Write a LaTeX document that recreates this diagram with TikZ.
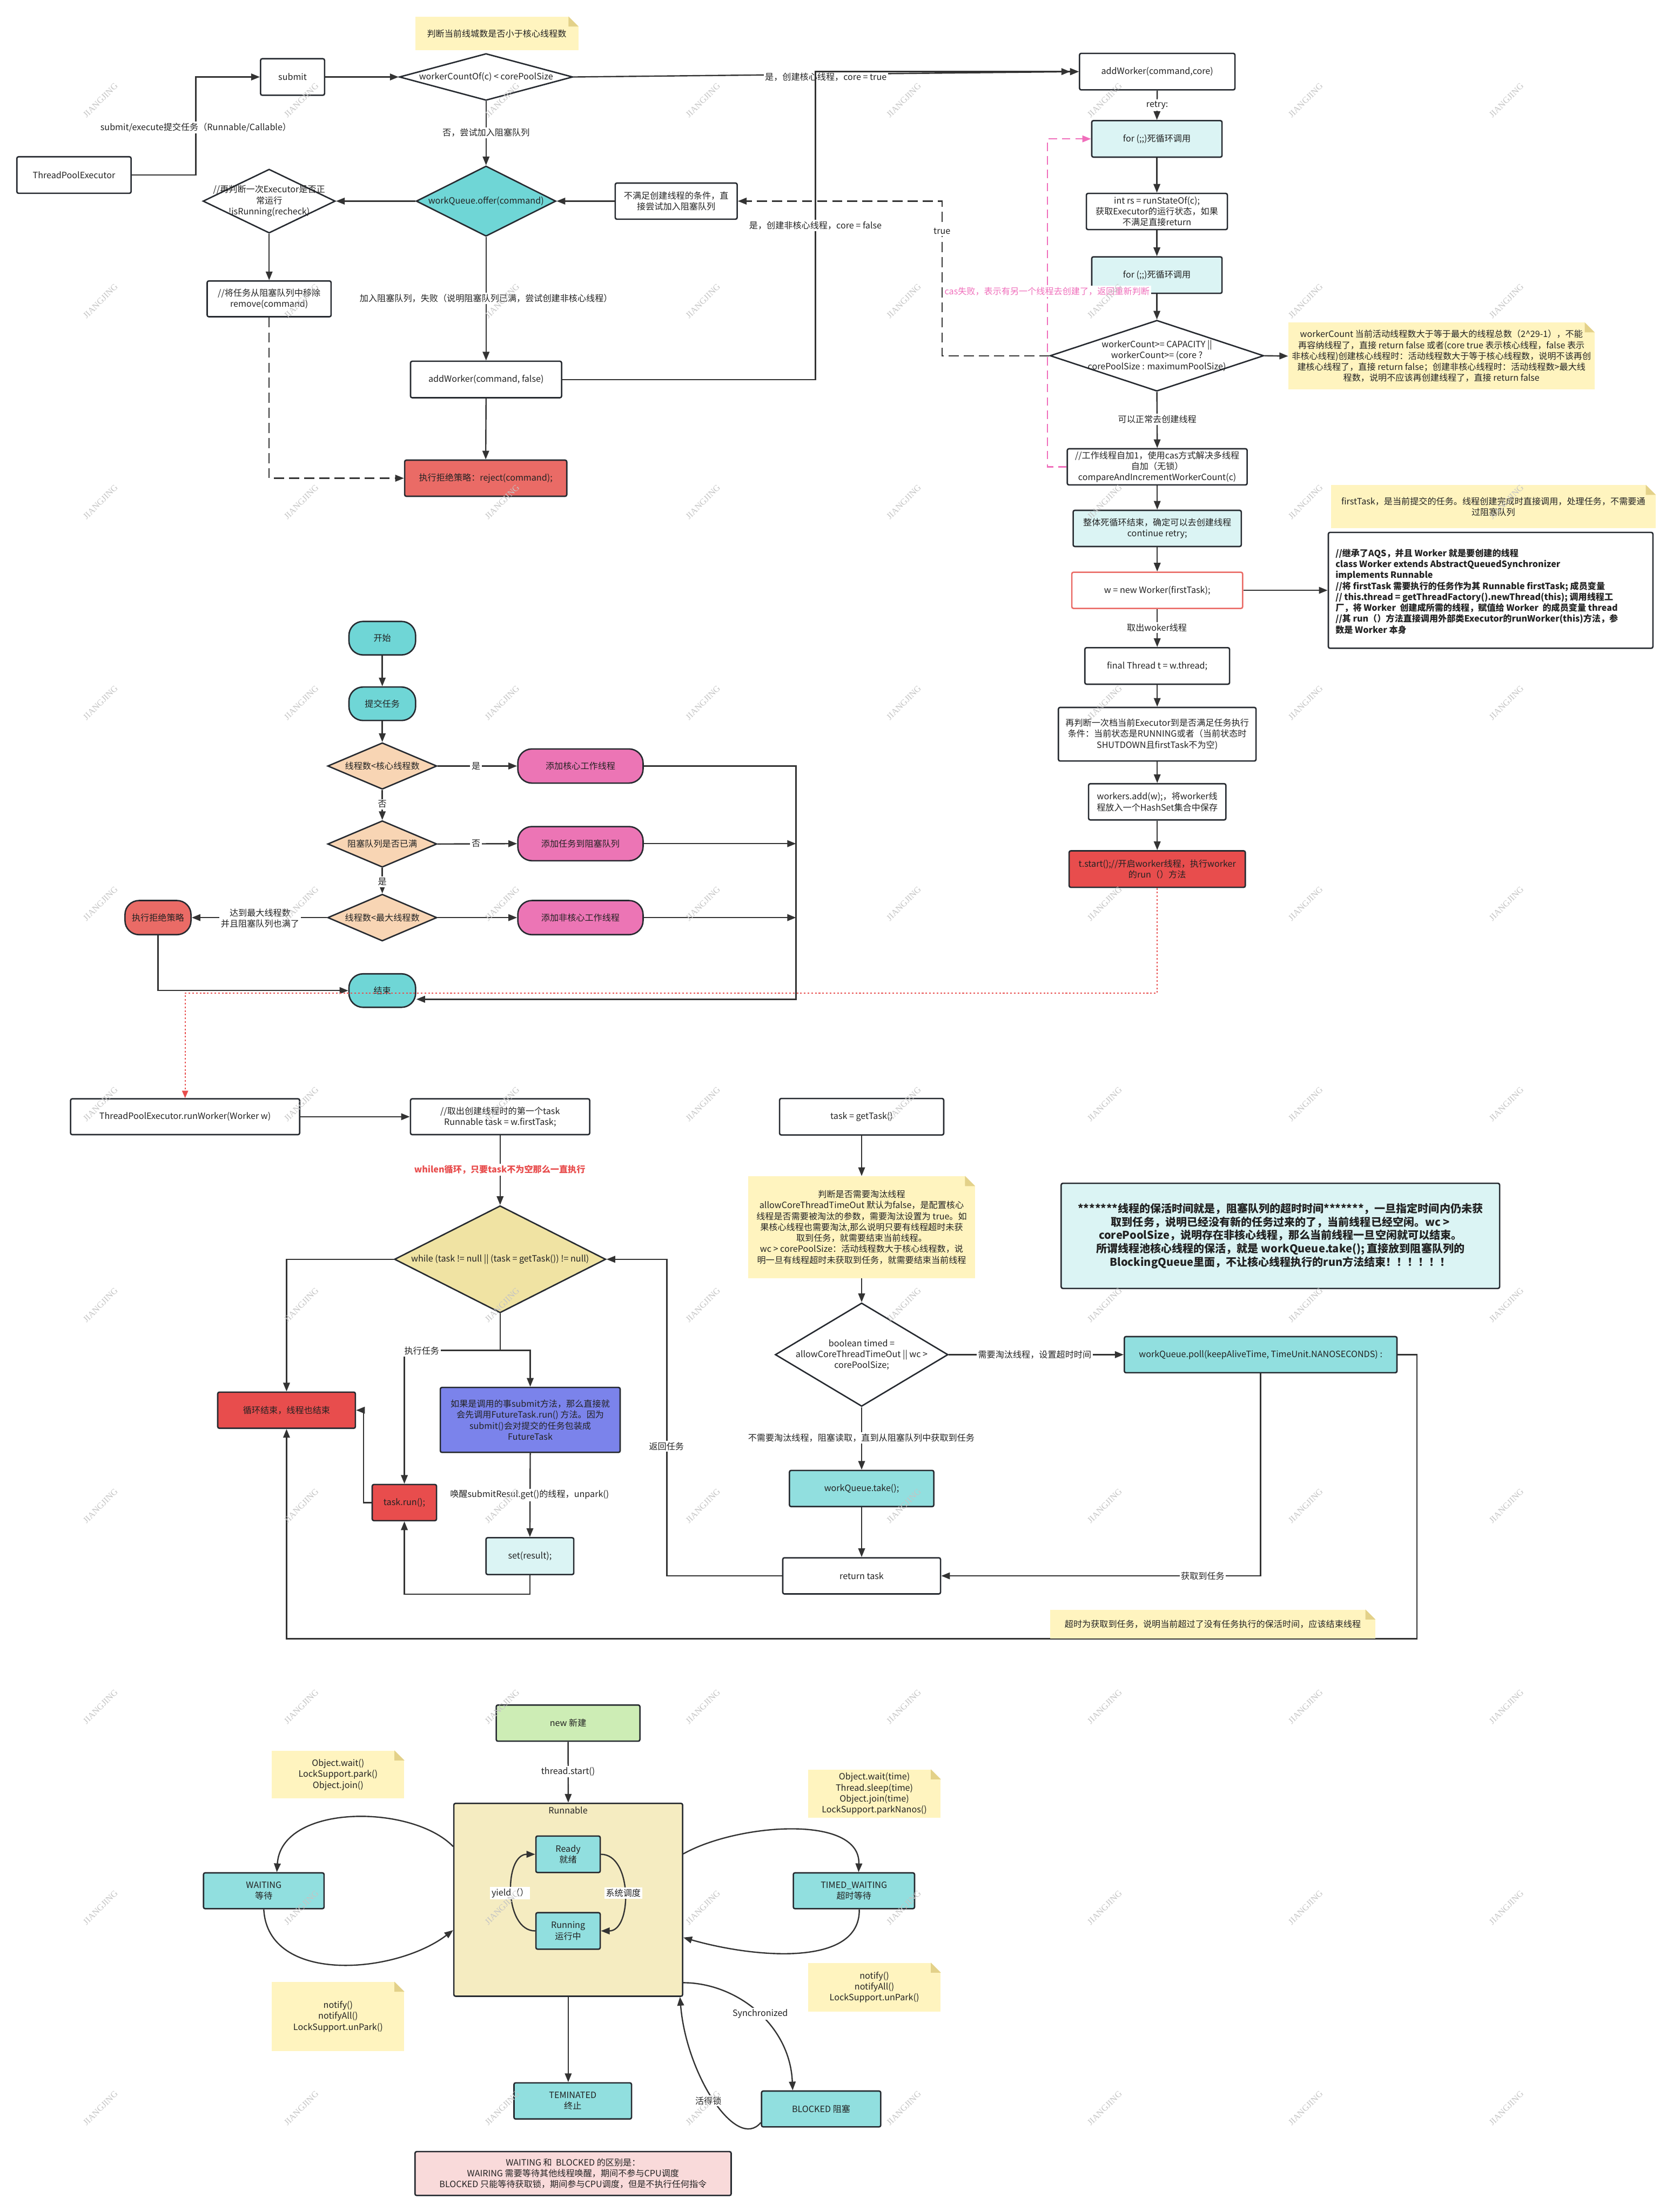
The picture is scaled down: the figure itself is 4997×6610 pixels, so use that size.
\documentclass[tikz,border=0pt]{standalone}
\usepackage{fontspec}
\setmainfont{Noto Sans CJK SC}
\newfontfamily\wmfont{Liberation Serif}
\usetikzlibrary{shapes.geometric,arrows.meta,calc}
\definecolor{cB}{HTML}{262A30}
\definecolor{cL}{HTML}{333333}
\definecolor{cT}{HTML}{222222}
\definecolor{cNote}{HTML}{FFF4BF}
\definecolor{cFold}{HTML}{E3D189}
\definecolor{cCy}{HTML}{6FD6D6}
\definecolor{cLC}{HTML}{DBF4F4}
\definecolor{cCy2}{HTML}{91DFDF}
\definecolor{cRed}{HTML}{EA6B66}
\definecolor{cRed2}{HTML}{E84D4D}
\definecolor{cPink}{HTML}{EC75B5}
\definecolor{cPeach}{HTML}{F8D5B4}
\definecolor{cKhaki}{HTML}{F0E3A3}
\definecolor{cBlue}{HTML}{7B83EB}
\definecolor{cGreen}{HTML}{CDEDB5}
\definecolor{cRun}{HTML}{F5ECC1}
\definecolor{cPk}{HTML}{F9DADA}
\definecolor{cPinkLine}{HTML}{F06EBB}
\definecolor{cWM}{HTML}{C4C4C4}
\newcommand\fs{\fontsize{7.4pt}{9.3pt}\selectfont}
\newcommand\fbig{\fontsize{9.2pt}{11.3pt}\selectfont\bfseries}
\newcommand\mynotefold[1]{%
  \fill[white] ($(#1.north east)+(-30,0)$) -- (#1.north east) -- ($(#1.north east)+(0,30)$) -- cycle;
  \fill[cFold] ($(#1.north east)+(-30,0)$) -- ($(#1.north east)+(-30,30)$) -- ($(#1.north east)+(0,30)$) -- cycle;}
\begin{document}
\begin{tikzpicture}[x=0.01cm,y=-0.01cm,
  box/.style={draw=cB, line width=1.2pt, rounded corners=0.05cm, fill=white, align=center, font=\fs, text=cT, inner sep=1pt},
  stad/.style={box, rounded corners=0.42cm},
  dia/.style={diamond, draw=cB, line width=1.2pt, inner sep=0pt, fill=white},
  dtxt/.style={align=center, font=\fs, text=cT, inner sep=0pt},
  ln/.style={draw=cL, line width=1.1pt},
  arr/.style={draw=cL, line width=1.1pt, -{Triangle[length=0.26cm,width=0.2cm]}},
  arrd/.style={draw=cL, line width=1.1pt, -{Triangle[length=0.26cm,width=0.2cm]Triangle[length=0.26cm,width=0.2cm]}},
  dsh/.style={dash pattern=on 0.3cm off 0.15cm},
  lbl/.style={fill=white, inner sep=1.2pt, font=\fs, text=cT, align=center},
  note/.style={fill=cNote, align=center, font=\fs, text=cT, inner sep=2pt},
  wm/.style={font=\wmfont\fontsize{7.5pt}{8pt}\selectfont, text=cWM, rotate=45, inner sep=0pt}
]
\fill[white] (0,0) rectangle (4997,6610);
\useasboundingbox (0,0) rectangle (4997,6610);

%%%%%%%%%%%%%%%% top section
\node[note, minimum width=4.87cm, minimum height=1.00cm] (n0) at (1484,100) {判断当前线城数是否小于核心线程数};
\mynotefold{n0}
\node[box, minimum width=1.91cm, minimum height=1.09cm] (submit) at (874,230) {submit};
\node[dia, minimum width=5.18cm, minimum height=1.40cm] (d1) at (1452,230) {};
\node[dtxt] (d1t) at (1452,230) {workerCountOf(c) < corePoolSize};
\node[box, minimum width=3.41cm, minimum height=1.09cm] (tpe) at (221,523) {ThreadPoolExecutor};
\coordinate (c0) at (585,523);
\draw[arr] (tpe.east) -- (c0) |- (submit.west);
\node[lbl] (l0) at (585,381) {submit/execute提交任务（Runnable/Callable）};
\draw[arr] (submit.east) -- (d1.west);

\node[box, minimum width=4.64cm, minimum height=1.09cm] (aw) at (3457,214) {addWorker(command,core)};
\draw[arr] (d1.east) -- (aw.west);
\node[lbl] (l1) at (2467,230) {是，创建核心线程，core = true};

\node[dia, fill=cCy, minimum width=4.17cm, minimum height=2.10cm] (wq) at (1452,601) {};
\node[dtxt] (wqt) at (1452,601) {workQueue.offer(command)};
\draw[arr] (d1.south) -- (wq.north);
\node[lbl] (l2) at (1452,397) {否，尝试加入阻塞队列};
\node[box, minimum width=3.64cm, minimum height=1.08cm] (nc) at (2020,601) {不满足创建线程的条件，直\\接尝试加入阻塞队列};
\draw[arr] (nc.west) -- (wq.east);
\node[dia, minimum width=3.95cm, minimum height=1.91cm] (rc) at (804,601) {};
\node[dtxt] (rct) at (804,601) {//再判断一次Executor是否正\\常运行\\!isRunning(recheck)};
\draw[arr] (wq.west) -- (rc.east);
\node[box, minimum width=3.70cm, minimum height=1.07cm] (rm) at (804,893) {//将任务从阻塞队列中移除\\remove(command)};
\draw[arr] (rc.south) -- (rm.north);
\node[box, minimum width=4.51cm, minimum height=1.09cm] (awf) at (1452,1134) {addWorker(command, false)};
\draw[arr] (wq.south) -- (awf.north);
\node[lbl] (l3) at (1452,891) {加入阻塞队列，失败（说明阻塞队列已满，尝试创建非核心线程）};
\node[box, fill=cRed, minimum width=4.84cm, minimum height=1.08cm] (rej) at (1451,1429) {执行拒绝策略：reject(command);};
\draw[arr] (awf.south) -- (rej.north);
\draw[arr, dsh] (rm.south) |- (rej.west);
\coordinate (c1) at (2436,214);
\draw[arrd] (awf.east) -| (c1) -- (aw.west);
\node[lbl] (l4) at (2436,674) {是，创建非核心线程，core = false};

%%%%%%%%%%%%%%%% right column
\node[box, fill=cLC, minimum width=3.89cm, minimum height=1.09cm] (for1) at (3456,415) {for (;;)死循环调用};
\draw[arr] (aw.south) -- (for1.north);
\node[lbl] (l5) at (3457,314) {retry:};
\node[box, minimum width=4.21cm, minimum height=1.08cm] (rs) at (3456,632) {int rs = runStateOf(c);\\获取Executor的运行状态，如果\\不满足直接return};
\draw[arr] (for1.south) -- (rs.north);
\node[box, fill=cLC, minimum width=3.89cm, minimum height=1.09cm] (for2) at (3456,822) {for (;;)死循环调用};
\draw[arr] (rs.south) -- (for2.north);
\node[dia, minimum width=6.38cm, minimum height=2.12cm] (cap) at (3456,1063) {};
\node[dtxt] (capt) at (3456,1063) {workerCount>= CAPACITY ||\\workerCount>= (core ?\\corePoolSize : maximumPoolSize)};
\draw[arr] (for2.south) -- (cap.north);
\node[note, minimum width=9.14cm, minimum height=2.00cm] (capn) at (4306,1064) {workerCount 当前活动线程数大于等于最大的线程总数（2\textasciicircum 29-1），不能\\再容纳线程了，直接 return false 或者(core true 表示核心线程，false 表示\\非核心线程)创建核心线程时：活动线程数大于等于核心线程数，说明不该再创\\建核心线程了，直接 return false；创建非核心线程时：活动线程数>最大线\\程数，说明不应该再创建线程了，直接 return false};
\mynotefold{capn}
\draw[arr] (cap.east) -- (capn.west);
\coordinate (c2) at (2814,1063);
\draw[arr, dsh] (cap.west) -- (c2) |- (nc.east);
\node[lbl] (l6) at (2814,691) {true};
\node[box, minimum width=5.37cm, minimum height=1.08cm] (cas) at (3457,1395) {//工作线程自加1，使用cas方式解决多线程\\自加（无锁）\\compareAndIncrementWorkerCount(c)};
\draw[arr] (cap.south) -- (cas.north);
\node[lbl] (l7) at (3457,1253) {可以正常去创建线程};
\coordinate (c4) at (3129,1395);
\draw[draw=cPinkLine, line width=1.1pt, dash pattern=on 0.25cm off 0.15cm, -{Triangle[length=0.26cm,width=0.2cm]}] (cas.west) -- (c4) |- (for1.west);
\node[lbl, text=cPinkLine] (l8) at (3128,871) {cas失败，表示有另一个线程去创建了，返回重新判断};
\node[box, fill=cLC, minimum width=5.02cm, minimum height=1.08cm] (loop) at (3457,1579) {整体死循环结束，确定可以去创建线程\\continue retry;};
\draw[arr] (cas.south) -- (loop.north);
\node[box, draw=cRed, minimum width=5.10cm, minimum height=1.08cm] (nw) at (3457,1764) {w = new Worker(firstTask);};
\draw[arr] (loop.south) -- (nw.north);
\node[note, minimum width=9.69cm, minimum height=1.29cm] (ftn) at (4461,1514) {firstTask，是当前提交的任务。线程创建完成时直接调用，处理任务，不需要通\\过阻塞队列};
\mynotefold{ftn}
\node[box, minimum width=9.69cm, minimum height=3.46cm] (wk) at (4453,1764) {};
\node[anchor=west, align=left, font=\fs\bfseries, text=cT, inner sep=0pt] (wkt) at (3989,1767) {//继承了AQS，并且 Worker 就是要创建的线程\\class Worker extends AbstractQueuedSynchronizer\\implements Runnable\\//将 firstTask 需要执行的任务作为其 Runnable firstTask; 成员变量\\// this.thread = getThreadFactory().newThread(this); 调用线程工\\厂，将 Worker~ 创建成所需的线程，赋值给 Worker~ 的成员变量 thread\\//其 run（）方法直接调用外部类Executor的runWorker(this)方法，参\\数是 Worker 本身};
\draw[arr] (nw.east) -- (wk.west);
\node[box, minimum width=4.32cm, minimum height=1.09cm] (ft) at (3457,1990) {final Thread t = w.thread;};
\draw[arr] (nw.south) -- (ft.north);
\node[lbl] (l9) at (3456,1875) {取出woker线程};
\node[box, minimum width=5.90cm, minimum height=1.60cm] (rc2) at (3457,2194) {再判断一次档当前Executor到是否满足任务执行\\条件：当前状态是RUNNING或者（当前状态时\\SHUTDOWN且firstTask不为空)};
\draw[arr] (ft.south) -- (rc2.north);
\node[box, minimum width=4.10cm, minimum height=1.08cm] (wa) at (3457,2396) {workers.add(w);，将worker线\\程放入一个HashSet集合中保存};
\draw[arr] (rc2.south) -- (wa.north);
\node[box, fill=cRed2, minimum width=5.26cm, minimum height=1.09cm] (ts) at (3457,2597) {t.start();//开启worker线程，执行worker\\的run（）方法};
\draw[arr] (wa.south) -- (ts.north);

%%%%%%%%%%%%%%%% simple flowchart
\node[stad, fill=cCy, minimum width=1.99cm, minimum height=1.00cm] (st) at (1142,1907) {开始};
\node[stad, fill=cCy, minimum width=1.99cm, minimum height=1.00cm] (sub) at (1142,2103) {提交任务};
\draw[arr] (st.south) -- (sub.north);
\node[dia, fill=cPeach, minimum width=3.26cm, minimum height=1.39cm] (dA) at (1142,2289) {};
\node[dtxt] (dAt) at (1142,2289) {线程数<核心线程数};
\draw[arr] (sub.south) -- (dA.north);
\node[stad, fill=cPink, minimum width=3.74cm, minimum height=1.02cm] (pA) at (1734,2289) {添加核心工作线程};
\draw[arr] (dA.east) -- (pA.west);
\node[lbl] (lA) at (1422,2289) {是};
\node[dia, fill=cPeach, minimum width=3.26cm, minimum height=1.39cm] (dB) at (1142,2522) {};
\node[dtxt] (dBt) at (1142,2522) {阻塞队列是否已满};
\draw[arr] (dA.south) -- (dB.north);
\node[lbl] (lB) at (1142,2403) {否};
\node[stad, fill=cPink, minimum width=3.74cm, minimum height=1.02cm] (pB) at (1734,2521) {添加任务到阻塞队列};
\draw[arr] (dB.east) -- (pB.west);
\node[lbl] (lC) at (1422,2521) {否};
\node[dia, fill=cPeach, minimum width=3.26cm, minimum height=1.40cm] (dC) at (1142,2742) {};
\node[dtxt] (dCt) at (1142,2742) {线程数<最大线程数};
\draw[arr] (dB.south) -- (dC.north);
\node[lbl] (lD) at (1142,2635) {是};
\node[stad, fill=cPink, minimum width=3.74cm, minimum height=1.02cm] (pC) at (1734,2742) {添加非核心工作线程};
\draw[arr] (dC.east) -- (pC.west);
\node[stad, fill=cRed, minimum width=1.97cm, minimum height=1.02cm] (rj) at (472,2742) {执行拒绝策略};
\draw[arr] (dC.west) -- (rj.east);
\node[lbl] (lE) at (777,2744) {达到最大线程数\\并且阻塞队列也满了};
\node[stad, fill=cCy, minimum width=1.99cm, minimum height=1.00cm] (en) at (1142,2960) {结束};
\coordinate (vb) at (2378,2986);
\coordinate (vB) at (2378,2521);
\coordinate (vC) at (2378,2742);
\draw[arr] (pA.east) -| (vb) -- (en.east |- vb);
\draw[arr] (pB.east) -- (vB);
\draw[arr] (pC.east) -- (vC);
\draw[arr] (rj.south) |- (en.west);

%%%%%%%%%%%%%%%% runWorker section
\node[box, minimum width=6.84cm, minimum height=1.07cm] (rw) at (553,3337) {ThreadPoolExecutor.runWorker(Worker w)};
\coordinate (rd0) at (553,2968);
\draw[draw=cRed2, line width=1pt, dash pattern=on 0.05cm off 0.06cm, -{Triangle[length=0.22cm,width=0.18cm]}] (ts.south) |- (rd0) -- (rw.north);
\node[box, minimum width=5.35cm, minimum height=1.07cm] (ftk) at (1494,3337) {//取出创建线程时的第一个task\\Runnable task = w.firstTask;};
\draw[arr] (rw.east) -- (ftk.west);
\node[dia, fill=cKhaki, minimum width=6.31cm, minimum height=3.20cm] (wd) at (1494,3763) {};
\node[dtxt] (wdt) at (1494,3763) {while (task != null || (task = getTask()) != null)};
\draw[arr] (ftk.south) -- (wd.north);
\node[lbl, text=cRed2, font=\fs\bfseries] (lw) at (1493,3495) {whilen循环，只要task不为空那么一直执行};
\node[box, fill=cRed2, minimum width=4.11cm, minimum height=1.08cm] (le) at (856,4214) {循环结束，线程也结束};
\draw[arr] (wd.west) -| (le.north);
\node[box, fill=cBlue, minimum width=5.37cm, minimum height=1.94cm] (ftb) at (1584,4243) {如果是调用的事submit方法，那么直接就\\会先调用FutureTask.run() 方法。因为\\submit()会对提交的任务包装成\\FutureTask};
\node[box, fill=cRed2, minimum width=1.92cm, minimum height=1.08cm] (tr) at (1208,4490) {task.run();};
\node[box, fill=cLC, minimum width=2.62cm, minimum height=1.10cm] (sr) at (1583,4650) {set(result);};
\coordinate (jn) at (1494,4035);
\draw[arr] (wd.south) -- (jn) -| (ftb.north);
\draw[arr] (jn) -| (tr.north);
\node[lbl] (lx) at (1260,4037) {执行任务};
\coordinate (jt) at (1086,4490);
\draw[arr] (tr.west) -- (jt) |- (le.east);
\draw[arr] (ftb.south) -- (sr.north);
\node[lbl] (ly) at (1582,4467) {唤醒submitResul.get()的线程，unpark()};
\coordinate (js) at (1583,4764);
\draw[arr] (sr.south) -- (js) -| (tr.south);

\node[box, minimum width=4.90cm, minimum height=1.09cm] (gt) at (2574,3337) {task = getTask()};
\node[note, minimum width=6.76cm, minimum height=3.04cm] (jnote) at (2574,3667) {判断是否需要淘汰线程\\allowCoreThreadTimeOut 默认为false，是配置核心\\线程是否需要被淘汰的参数，需要淘汰设置为 true。如\\果核心线程也需要淘汰,那么说明只要有线程超时未获\\取到任务，就需要结束当前线程。\\wc > corePoolSize：活动线程数大于核心线程数，说\\明一旦有线程超时未获取到任务，就需要结束当前线程};
\mynotefold{jnote}
\draw[arr] (gt.south) -- (jnote.north);
\node[dia, minimum width=5.16cm, minimum height=3.09cm] (bd) at (2574,4048) {};
\node[dtxt] (bdt) at (2574,4048) {boolean timed =\\allowCoreThreadTimeOut || wc >\\corePoolSize;};
\draw[arr] (jnote.south) -- (bd.north);
\node[box, fill=cCy2, minimum width=8.14cm, minimum height=1.08cm] (poll) at (3766,4048) {workQueue.poll(keepAliveTime, TimeUnit.NANOSECONDS) :};
\draw[arr] (bd.east) -- (poll.west);
\node[lbl] (lp) at (3091,4048) {需要淘汰线程，设置超时时间};
\node[box, fill=cCy2, minimum width=4.31cm, minimum height=1.08cm] (tk) at (2574,4448) {workQueue.take();};
\draw[arr] (bd.south) -- (tk.north);
\node[lbl] (lt) at (2573,4297) {不需要淘汰线程，阻塞读取，直到从阻塞队列中获取到任务};
\node[box, minimum width=4.71cm, minimum height=1.08cm] (rt) at (2574,4709) {return task};
\draw[arr] (tk.south) -- (rt.north);
\draw[arr] (poll.south) |- (rt.east);
\node[lbl] (lg) at (3593,4709) {获取到任务};
\coordinate (cr) at (1992,3763);
\draw[arr] (rt.west) -| (cr) -- (wd.east);
\node[lbl] (lr) at (1991,4322) {返回任务};
\coordinate (pr1) at (4233,4048);
\coordinate (pr2) at (856,4897);
\draw[arr] (poll.east) -- (pr1) |- (pr2) -- (le.south);
\node[note, minimum width=9.70cm, minimum height=0.86cm] (ton) at (3623,4853) {超时为获取到任务，说明当前超过了没有任务执行的保活时间，应该结束线程};
\mynotefold{ton}
\node[box, fill=cLC, minimum width=13.09cm, minimum height=3.14cm, font=\fbig] (big) at (3825,3693) {*******线程的保活时间就是，阻塞队列的超时时间*******，一旦指定时间内仍未获\\取到任务，说明已经没有新的任务过来的了，当前线程已经空闲。wc >\\corePoolSize，说明存在非核心线程，那么当前线程一旦空闲就可以结束。\\所谓线程池核心线程的保活，就是 workQueue.take(); 直接放到阻塞队列的\\BlockingQueue里面，不让核心线程执行的run方法结束！！！！！！};

%%%%%%%%%%%%%%%% thread states
\node[box, fill=cGreen, minimum width=4.29cm, minimum height=1.08cm] (nb) at (1697,5149) {new 新建};
\node[box, fill=cRun, minimum width=6.83cm, minimum height=5.76cm] (rn) at (1697.5,5677) {};
\node[dtxt] (rnt) at (1697,5410) {Runnable};
\draw[arr] (nb.south) -- (rn.north);
\node[lbl] (lts) at (1697,5294) {thread.start()};
\node[box, fill=cCy2, minimum width=1.92cm, minimum height=1.09cm] (rdy) at (1697,5541) {Ready\\就绪};
\node[box, fill=cCy2, minimum width=1.92cm, minimum height=1.09cm] (rg) at (1697,5770) {Running\\运行中};
\draw[arr] (rg.west) .. controls (1505,5770) and (1505,5541) .. (rdy.west);
\draw[arr] (rdy.east) .. controls (1889,5541) and (1889,5770) .. (rg.east);
\node[lbl] (lyd) at (1524,5657) {yield（）};
\node[lbl] (lsd) at (1862,5657) {系统调度};
\node[box, fill=cCy2, minimum width=3.60cm, minimum height=1.07cm] (wt) at (788,5650) {WAITING\\等待};
\node[box, fill=cCy2, minimum width=3.62cm, minimum height=1.07cm] (tw) at (2551,5650) {TIMED\_WAITING\\超时等待};
\node[box, fill=cCy2, minimum width=3.51cm, minimum height=1.08cm] (te) at (1711,6278) {TEMINATED\\终止};
\node[box, fill=cCy2, minimum width=3.56cm, minimum height=1.07cm] (bl) at (2453,6302) {BLOCKED 阻塞};
\draw[arr] (rn.south) -- (rn.south |- te.north);
\node[note, minimum width=3.95cm, minimum height=1.43cm] (nw1) at (1010,5303) {Object.wait()\\LockSupport.park()\\Object.join()};
\mynotefold{nw1}
\node[note, minimum width=3.95cm, minimum height=2.07cm] (nw2) at (1010,6026) {notify()\\notifyAll()\\LockSupport.unPark()};
\mynotefold{nw2}
\node[note, minimum width=3.96cm, minimum height=1.44cm] (nt1) at (2612,5360) {Object.wait(time)\\Thread.sleep(time)\\Object.join(time)\\LockSupport.parkNanos()};
\mynotefold{nt1}
\node[note, minimum width=3.96cm, minimum height=1.45cm] (nt2) at (2612,5938) {notify()\\notifyAll()\\LockSupport.unPark()};
\mynotefold{nt2}
\draw[arr] ($(rn.north west)+(0,131)$) .. controls (1230,5390) and (840,5390) .. ($(wt.north)+(39,0)$);
\draw[arr] (wt.south) .. controls (800,5930) and (1180,5900) .. ($(rn.north west)+(0,381)$);
\draw[arr] ($(rn.north east)+(0,153)$) .. controls (2200,5450) and (2570,5420) .. ($(tw.north)+(14,0)$);
\draw[arr] ($(tw.south)+(16,0)$) .. controls (2570,5880) and (2250,5850) .. ($(rn.north east)+(0,403)$);
\draw[arr] ($(rn.north east)+(0,538)$) .. controls (2200,5925) and (2360,6050) .. ($(bl.north)+(-85,0)$);
\node[lbl] (lsy) at (2271,6017) {Synchronized};
\draw[arr] ($(bl.south west)+(0,-15)$) .. controls (2200,6430) and (2050,6200) .. ($(rn.south east)+(-10,0)$);
\node[lbl] (lhd) at (2116,6278) {活得锁};
\node[box, fill=cPk, minimum width=9.44cm, minimum height=1.31cm] (pk) at (1712,6495) {WAITING 和~ BLOCKED 的区别是：\\WAIRING 需要等待其他线程唤醒，期间不参与CPU调度\\BLOCKED 只能等待获取锁，期间参与CPU调度，但是不执行任何指令};

%%%%%%%%%%%%%%%% watermarks
\foreach \i in {0,...,7}{
  \foreach \j in {0,...,10}{
    \node[wm] (wm-\i-\j) at (300+600*\i,300+600*\j) {JIANGJING};
  }
}
\end{tikzpicture}
\end{document}
